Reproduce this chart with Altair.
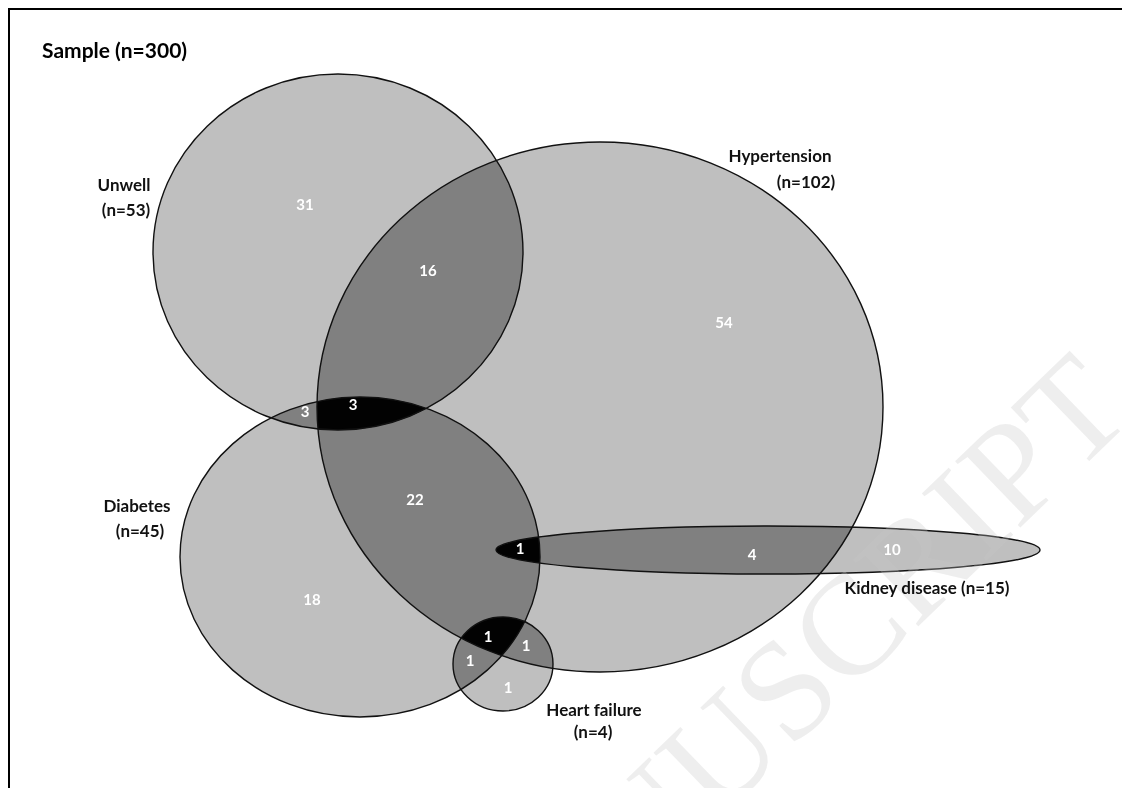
import altair as alt
import pandas as pd

# ---- chart geometry (plot area in page pixels; page margin 8px) ----
W, H = 1114, 780
X0, Y0 = 8, 8

# ---- sets (ellipses): centre and radii ----
set_names = ["Unwell", "Hypertension", "Diabetes", "Kidney disease", "Heart failure"]
set_cx = [338, 600, 360, 768, 503]
set_cy = [252, 407, 557, 550, 664]
set_rx = [185, 283, 180, 272, 50]
set_ry = [178, 265, 160, 24, 47]

# ---- set labels ----
label_text = ["Unwell", "(n=53)", "Hypertension", "(n=102)", "Diabetes", "(n=45)",
              "Kidney disease (n=15)", "Heart failure", "(n=4)"]
label_x = [124, 126, 780, 806, 137, 140, 927, 594, 593]
label_y = [186, 211, 157, 183, 507, 532, 589, 711, 733]

title_text = ["Sample (n=300)"]
title_x = [42]
title_y = [52]

# ---- region counts ----
count_text = ["31", "16", "54", "3", "3", "22", "1", "4", "10", "18", "1", "1", "1", "1"]
count_x = [305, 428, 724, 305, 353, 415, 520, 752, 892, 312, 488, 526, 470, 508]
count_y = [205, 271, 323, 412, 405, 500, 549, 555, 550, 600, 637, 646, 661, 688]

# ---- watermark ----
wm_text = ["ACCEPTED MANUSCRIPT"]
wm_x = [1136]
wm_y = [416]

K = 0.5523


def ellipse_path(k):
    a = K * k
    f = lambda v: f"{v:.4f}"
    return (f"M -1 0 C -1 {f(-a)} {f(-K)} {f(-k)} 0 {f(-k)} "
            f"C {f(K)} {f(-k)} 1 {f(-a)} 1 0 "
            f"C 1 {f(a)} {f(K)} {f(k)} 0 {f(k)} "
            f"C {f(-K)} {f(k)} -1 {f(a)} -1 0 Z")


sets = pd.DataFrame({
    "name": set_names,
    "cx": set_cx,
    "cy": set_cy,
    "path": [ellipse_path(ry / rx) for rx, ry in zip(set_rx, set_ry)],
    "size": [4 * rx * rx for rx in set_rx],
})
labels = pd.DataFrame({"t": label_text, "x": label_x, "y": label_y})
titles = pd.DataFrame({"t": title_text, "x": title_x, "y": title_y})
counts = pd.DataFrame({"t": count_text, "x": count_x, "y": count_y})
wm = pd.DataFrame({"t": wm_text, "x": wm_x, "y": wm_y})

xs = alt.Scale(domain=[X0, X0 + W], nice=False, zero=False)
ys = alt.Scale(domain=[Y0, Y0 + H], nice=False, zero=False, reverse=True)

enc_sets = dict(
    x=alt.X("cx:Q", scale=xs, axis=None),
    y=alt.Y("cy:Q", scale=ys, axis=None),
    shape=alt.Shape("path:N", scale=None, legend=None),
    size=alt.Size("size:Q", scale=None, legend=None),
)

base_fill = alt.Chart(sets).mark_point(
    filled=True, fill="#dfdfdf", opacity=1, fillOpacity=1, strokeWidth=0
).encode(**enc_sets)

burn = alt.Chart(sets).mark_point(
    filled=True, fill="#808080", opacity=1, fillOpacity=1, strokeWidth=0,
    blend="color-burn"
).encode(**enc_sets)

outline = alt.Chart(sets).mark_point(
    filled=False, stroke="#111111", strokeWidth=1.4, opacity=1
).encode(**enc_sets)

watermark = alt.Chart(wm).mark_text(
    font="Liberation Serif", fontSize=142, angle=316, align="right",
    baseline="alphabetic", color="#c8c8c8", opacity=0.3
).encode(
    x=alt.X("x:Q", scale=xs, axis=None),
    y=alt.Y("y:Q", scale=ys, axis=None),
    text="t:N",
)

label_layer = alt.Chart(labels).mark_text(
    font="Lato", fontSize=17, fontWeight="bold", color="#111111",
    align="center", baseline="middle"
).encode(
    x=alt.X("x:Q", scale=xs, axis=None),
    y=alt.Y("y:Q", scale=ys, axis=None),
    text="t:N",
)

title_layer = alt.Chart(titles).mark_text(
    font="Lato", fontSize=21, fontWeight="bold", color="#000000",
    align="left", baseline="middle"
).encode(
    x=alt.X("x:Q", scale=xs, axis=None),
    y=alt.Y("y:Q", scale=ys, axis=None),
    text="t:N",
)

count_layer = alt.Chart(counts).mark_text(
    font="Lato", fontSize=15, fontWeight="bold", color="#ffffff",
    align="center", baseline="middle"
).encode(
    x=alt.X("x:Q", scale=xs, axis=None),
    y=alt.Y("y:Q", scale=ys, axis=None),
    text="t:N",
)

top_border = alt.Chart(titles).mark_rule(color="#000000", strokeWidth=4).encode(
    x=alt.value(0), x2=alt.value(W), y=alt.value(0)
)
left_border = alt.Chart(titles).mark_rule(color="#000000", strokeWidth=4).encode(
    x=alt.value(0), y=alt.value(0), y2=alt.value(H)
)

chart = alt.layer(
    base_fill, burn, outline, watermark, label_layer, title_layer, count_layer,
    top_border, left_border
).properties(
    width=W, height=H, padding=0,
    autosize=alt.AutoSizeParams(type="none"),
    background="#ffffff",
).configure_view(stroke=None)

chart.save("out.html", embed_options={"renderer": "svg", "actions": False})
